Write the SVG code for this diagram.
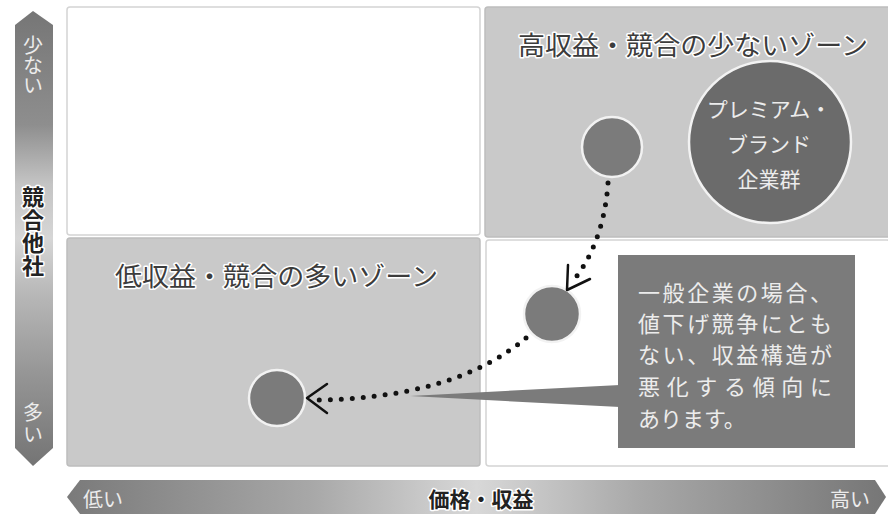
<svg xmlns="http://www.w3.org/2000/svg" width="888" height="517" viewBox="0 0 888 517">
<defs>
<linearGradient id="gv" x1="0" y1="0" x2="0" y2="1">
<stop offset="0" stop-color="#767676"/>
<stop offset="0.25" stop-color="#8e8e8e"/>
<stop offset="0.38" stop-color="#c4c4c4"/>
<stop offset="0.5" stop-color="#d6d6d6"/>
<stop offset="0.62" stop-color="#b8b8b8"/>
<stop offset="0.8" stop-color="#959595"/>
<stop offset="1" stop-color="#747474"/>
</linearGradient>
<linearGradient id="gh" x1="0" y1="0" x2="1" y2="0">
<stop offset="0" stop-color="#7a7a7a"/>
<stop offset="0.3" stop-color="#a8a8a8"/>
<stop offset="0.5" stop-color="#d8d8d8"/>
<stop offset="0.7" stop-color="#a8a8a8"/>
<stop offset="1" stop-color="#767676"/>
</linearGradient>
</defs>
<style>
.zw{fill:#ffffff;stroke:#d4d4d4;stroke-width:1.5}
.zg{fill:#c9c9c9;stroke:#bdbdbd;stroke-width:1.5}
.title{font-family:"Noto Sans CJK JP","Noto Sans",sans-serif;font-size:26px;fill:#3c3c3c;stroke:#ffffff;stroke-width:3;paint-order:stroke;stroke-linejoin:round}
.dot{fill:#7b7b7b;stroke:#f2f2f2;stroke-width:2.5}
.wt{font-family:"Noto Sans CJK JP","Noto Sans",sans-serif;fill:#ececec}
.bk{font-family:"Noto Sans CJK JP","Noto Sans",sans-serif;font-weight:bold;fill:#222;stroke:#ffffff;stroke-width:3;paint-order:stroke;stroke-linejoin:round}
.vt{writing-mode:vertical-rl;text-orientation:upright}
.path{fill:none;stroke:#111;stroke-width:5;stroke-linecap:round;stroke-dasharray:0 11}
.head{fill:none;stroke:#111;stroke-width:2.5;stroke-linecap:round;stroke-linejoin:round}
</style>
<rect width="888" height="517" fill="#ffffff"/>
<g id="zone-top-left"><rect class="zw" x="67" y="7" width="413" height="228" rx="3"/></g>
<g id="zone-top-right"><rect class="zg" x="485" y="7" width="405" height="230" rx="3"/>
<text class="title" x="518" y="55" textLength="350" lengthAdjust="spacingAndGlyphs">高収益・競合の少ないゾーン</text></g>
<g id="zone-bottom-left"><rect class="zg" x="67" y="238" width="413" height="228" rx="3"/>
<text class="title" x="115" y="286" textLength="323" lengthAdjust="spacingAndGlyphs">低収益・競合の多いゾーン</text></g>
<g id="zone-bottom-right"><rect class="zw" x="486" y="240" width="404" height="226" rx="3"/></g>
<g id="axis-y"><polygon points="15,25 33,11 53,25 53,448 33,466 15,448" fill="url(#gv)"/>
<text class="wt vt" font-size="20" x="33" y="35">少ない</text>
<text class="bk vt" font-size="22" x="33" y="186" letter-spacing="1">競合他社</text>
<text class="wt vt" font-size="20" x="33" y="402" letter-spacing="2">多い</text></g>
<g id="axis-x"><polygon points="67,497 80,480 875,480 886,497 875,514 80,514" fill="url(#gh)"/>
<text class="wt" font-size="20" x="83" y="507">低い</text>
<text class="bk" font-size="21" x="481" y="507" text-anchor="middle">価格・収益</text>
<text class="wt" font-size="20" x="830" y="507">高い</text></g>
<g id="premium"><circle cx="770" cy="142" r="81" fill="#6b6b6b" stroke="#f2f2f2" stroke-width="2.5"/>
<text class="wt" font-size="21" text-anchor="middle"><tspan x="769" y="117">プレミアム・</tspan><tspan x="769" y="152">ブランド</tspan><tspan x="769" y="187">企業群</tspan></text></g>
<g id="company-1"><circle class="dot" cx="612" cy="147" r="30"/></g>
<g id="company-2"><circle class="dot" cx="552" cy="314" r="28"/></g>
<g id="company-3"><circle class="dot" cx="277" cy="398" r="28"/></g>
<g id="callout"><polygon points="410,396 620,385 620,407" fill="#7b7b7b"/>
<rect x="618" y="255" width="237" height="193" fill="#7b7b7b"/>
<text class="wt" font-size="22"><tspan x="638" y="301" textLength="194" lengthAdjust="spacing">一般企業の場合、</tspan><tspan x="638" y="332" textLength="194" lengthAdjust="spacing">値下げ競争にとも</tspan><tspan x="638" y="363" textLength="194" lengthAdjust="spacing">ない、収益構造が</tspan><tspan x="638" y="395" textLength="194" lengthAdjust="spacing">悪化する傾向に</tspan><tspan x="638" y="427">あります。</tspan></text></g>
<g id="connectors">
<path class="path" d="M608,183 C606,215 596,254 572,282"/>
<polyline class="head" points="568,265 567,290 590,279"/>
<path class="path" d="M526,338 C490,368 430,398 318,400"/>
<polyline class="head" points="327,384 307,398 327,413"/>
</g>
</svg>
